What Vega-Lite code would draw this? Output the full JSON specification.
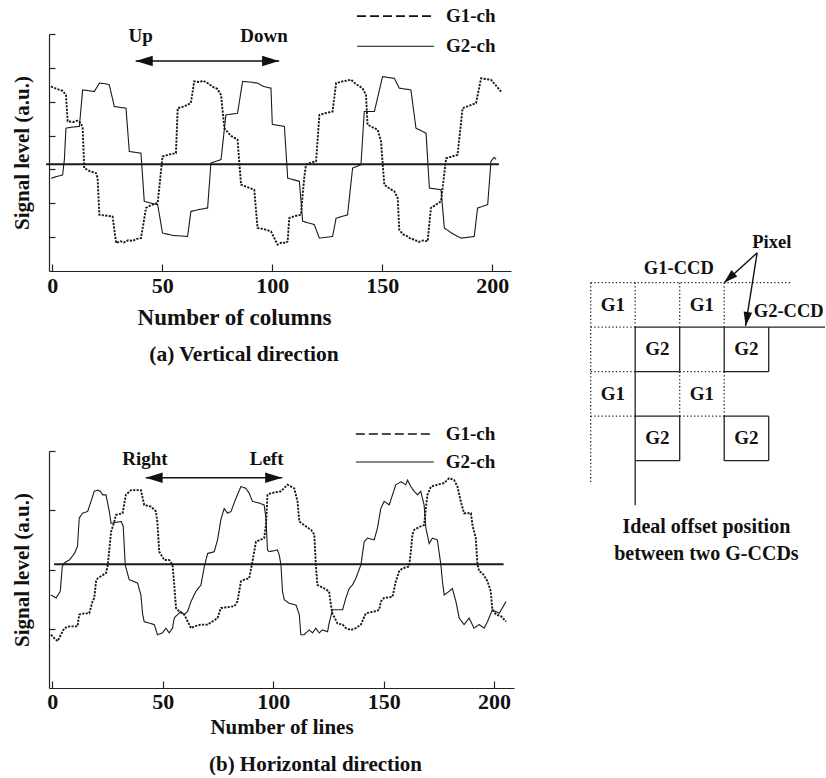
{
  "$schema": "https://vega.github.io/schema/vega-lite/v6.json",
  "background": "white",
  "padding": {"left": 11, "top": 7, "right": 0, "bottom": 0},
  "config": {
    "view": {"stroke": null},
    "font": "Liberation Serif",
    "axis": {
      "grid": false,
      "domainColor": "#222",
      "domainWidth": 1.2,
      "tickColor": "#222",
      "tickWidth": 1.2,
      "labelFont": "Liberation Serif",
      "labelFontSize": 22,
      "labelFontWeight": "bold",
      "labelColor": "#111",
      "titleFont": "Liberation Serif",
      "titleFontSize": 21,
      "titleFontWeight": "bold",
      "titleColor": "#111"
    },
    "title": {
      "font": "Liberation Serif",
      "fontSize": 21,
      "fontWeight": "bold",
      "color": "#111",
      "orient": "bottom",
      "anchor": "middle"
    }
  },
  "datasets": {
    "vertical": [
      {"k":1,"ch":"G1-ch","col":-0.6,"level":2.45},{"k":2,"ch":"G1-ch","col":2.0,"level":2.38},{"k":3,"ch":"G1-ch","col":4.7,"level":2.32},{"k":4,"ch":"G1-ch","col":6.2,"level":2.2},{"k":5,"ch":"G1-ch","col":7.0,"level":1.42},{"k":6,"ch":"G1-ch","col":9.5,"level":1.4},{"k":7,"ch":"G1-ch","col":11.5,"level":1.44},{"k":8,"ch":"G1-ch","col":13.0,"level":1.37},{"k":9,"ch":"G1-ch","col":13.8,"level":1.22},{"k":10,"ch":"G1-ch","col":14.5,"level":0.04},
      {"k":11,"ch":"G1-ch","col":17.0,"level":-0.05},{"k":12,"ch":"G1-ch","col":19.9,"level":-0.11},{"k":13,"ch":"G1-ch","col":20.6,"level":-0.26},{"k":14,"ch":"G1-ch","col":21.4,"level":-1.34},{"k":15,"ch":"G1-ch","col":24.0,"level":-1.36},{"k":16,"ch":"G1-ch","col":27.4,"level":-1.39},{"k":17,"ch":"G1-ch","col":29.0,"level":-2.17},{"k":18,"ch":"G1-ch","col":31.0,"level":-2.12},{"k":19,"ch":"G1-ch","col":32.5,"level":-2.16},{"k":20,"ch":"G1-ch","col":34.5,"level":-2.09},
      {"k":21,"ch":"G1-ch","col":36.5,"level":-2.11},{"k":22,"ch":"G1-ch","col":38.5,"level":-2.05},{"k":23,"ch":"G1-ch","col":40.3,"level":-2.03},{"k":24,"ch":"G1-ch","col":42.6,"level":-1.14},{"k":25,"ch":"G1-ch","col":45.0,"level":-1.05},{"k":26,"ch":"G1-ch","col":47.9,"level":-0.99},{"k":27,"ch":"G1-ch","col":50.1,"level":0.38},{"k":28,"ch":"G1-ch","col":53.0,"level":0.44},{"k":29,"ch":"G1-ch","col":56.2,"level":0.48},{"k":30,"ch":"G1-ch","col":57.0,"level":1.81},
      {"k":31,"ch":"G1-ch","col":60.0,"level":1.86},{"k":32,"ch":"G1-ch","col":63.0,"level":1.96},{"k":33,"ch":"G1-ch","col":64.5,"level":2.6},{"k":34,"ch":"G1-ch","col":67.0,"level":2.58},{"k":35,"ch":"G1-ch","col":68.5,"level":2.62},{"k":36,"ch":"G1-ch","col":70.6,"level":2.55},{"k":37,"ch":"G1-ch","col":73.0,"level":2.44},{"k":38,"ch":"G1-ch","col":75.0,"level":2.38},{"k":39,"ch":"G1-ch","col":76.7,"level":2.2},{"k":40,"ch":"G1-ch","col":78.2,"level":1.22},
      {"k":41,"ch":"G1-ch","col":81.0,"level":1.0},{"k":42,"ch":"G1-ch","col":84.2,"level":0.88},{"k":43,"ch":"G1-ch","col":85.8,"level":-0.45},{"k":44,"ch":"G1-ch","col":88.5,"level":-0.52},{"k":45,"ch":"G1-ch","col":91.8,"level":-0.6},{"k":46,"ch":"G1-ch","col":93.3,"level":-1.73},{"k":47,"ch":"G1-ch","col":96.0,"level":-1.76},{"k":48,"ch":"G1-ch","col":99.4,"level":-1.83},{"k":49,"ch":"G1-ch","col":102.4,"level":-2.22},{"k":50,"ch":"G1-ch","col":104.5,"level":-2.15},
      {"k":51,"ch":"G1-ch","col":106.0,"level":-2.18},{"k":52,"ch":"G1-ch","col":107.0,"level":-2.12},{"k":53,"ch":"G1-ch","col":107.7,"level":-1.44},{"k":54,"ch":"G1-ch","col":110.0,"level":-1.38},{"k":55,"ch":"G1-ch","col":113.0,"level":-1.34},{"k":56,"ch":"G1-ch","col":114.5,"level":-0.26},{"k":57,"ch":"G1-ch","col":115.3,"level":0.14},{"k":58,"ch":"G1-ch","col":117.5,"level":0.2},{"k":59,"ch":"G1-ch","col":119.9,"level":0.24},{"k":60,"ch":"G1-ch","col":121.4,"level":1.61},
      {"k":61,"ch":"G1-ch","col":124.0,"level":1.66},{"k":62,"ch":"G1-ch","col":127.4,"level":1.71},{"k":63,"ch":"G1-ch","col":129.0,"level":2.55},{"k":64,"ch":"G1-ch","col":132.0,"level":2.6},{"k":65,"ch":"G1-ch","col":135.8,"level":2.65},{"k":66,"ch":"G1-ch","col":138.0,"level":2.52},{"k":67,"ch":"G1-ch","col":141.0,"level":2.4},{"k":68,"ch":"G1-ch","col":142.6,"level":2.2},{"k":69,"ch":"G1-ch","col":143.3,"level":1.32},{"k":70,"ch":"G1-ch","col":147.9,"level":1.17},
      {"k":71,"ch":"G1-ch","col":149.4,"level":0.83},{"k":72,"ch":"G1-ch","col":150.9,"level":-0.45},{"k":73,"ch":"G1-ch","col":153.0,"level":-0.55},{"k":74,"ch":"G1-ch","col":155.5,"level":-0.65},{"k":75,"ch":"G1-ch","col":157.0,"level":-0.85},{"k":76,"ch":"G1-ch","col":157.7,"level":-1.78},{"k":77,"ch":"G1-ch","col":159.5,"level":-1.92},{"k":78,"ch":"G1-ch","col":161.5,"level":-1.98},{"k":79,"ch":"G1-ch","col":163.0,"level":-2.05},{"k":80,"ch":"G1-ch","col":164.5,"level":-2.07},
      {"k":81,"ch":"G1-ch","col":166.5,"level":-2.14},{"k":82,"ch":"G1-ch","col":168.5,"level":-2.1},{"k":83,"ch":"G1-ch","col":170.6,"level":-2.12},{"k":84,"ch":"G1-ch","col":172.1,"level":-1.14},{"k":85,"ch":"G1-ch","col":176.7,"level":-0.94},{"k":86,"ch":"G1-ch","col":179.0,"level":0.33},{"k":87,"ch":"G1-ch","col":184.2,"level":0.43},{"k":88,"ch":"G1-ch","col":186.5,"level":1.81},{"k":89,"ch":"G1-ch","col":189.5,"level":1.88},{"k":90,"ch":"G1-ch","col":192.6,"level":1.96},
      {"k":91,"ch":"G1-ch","col":194.9,"level":2.69},{"k":92,"ch":"G1-ch","col":197.0,"level":2.67},{"k":93,"ch":"G1-ch","col":199.4,"level":2.65},{"k":94,"ch":"G1-ch","col":202.0,"level":2.45},{"k":95,"ch":"G1-ch","col":204.0,"level":2.3},
      {"k":1,"ch":"G2-ch","col":-0.6,"level":-0.26},{"k":2,"ch":"G2-ch","col":4.7,"level":-0.16},{"k":3,"ch":"G2-ch","col":5.5,"level":0.3},{"k":4,"ch":"G2-ch","col":6.2,"level":1.22},{"k":5,"ch":"G2-ch","col":9.0,"level":1.25},{"k":6,"ch":"G2-ch","col":12.3,"level":1.27},{"k":7,"ch":"G2-ch","col":13.8,"level":2.35},{"k":8,"ch":"G2-ch","col":17.0,"level":2.32},{"k":9,"ch":"G2-ch","col":19.1,"level":2.3},{"k":10,"ch":"G2-ch","col":21.4,"level":2.55},
      {"k":11,"ch":"G2-ch","col":24.0,"level":2.53},{"k":12,"ch":"G2-ch","col":25.9,"level":2.5},{"k":13,"ch":"G2-ch","col":28.2,"level":1.86},{"k":14,"ch":"G2-ch","col":31.0,"level":1.83},{"k":15,"ch":"G2-ch","col":33.5,"level":1.81},{"k":16,"ch":"G2-ch","col":35.0,"level":0.53},{"k":17,"ch":"G2-ch","col":40.3,"level":0.48},{"k":18,"ch":"G2-ch","col":41.8,"level":-0.94},{"k":19,"ch":"G2-ch","col":45.0,"level":-1.0},{"k":20,"ch":"G2-ch","col":47.9,"level":-1.04},
      {"k":21,"ch":"G2-ch","col":50.1,"level":-1.88},{"k":22,"ch":"G2-ch","col":55.0,"level":-1.95},{"k":23,"ch":"G2-ch","col":61.5,"level":-1.98},{"k":24,"ch":"G2-ch","col":63.0,"level":-1.24},{"k":25,"ch":"G2-ch","col":67.0,"level":-1.18},{"k":26,"ch":"G2-ch","col":70.6,"level":-1.14},{"k":27,"ch":"G2-ch","col":72.1,"level":0.19},{"k":28,"ch":"G2-ch","col":76.7,"level":0.29},{"k":29,"ch":"G2-ch","col":78.9,"level":1.61},{"k":30,"ch":"G2-ch","col":84.2,"level":1.66},
      {"k":31,"ch":"G2-ch","col":86.5,"level":2.6},{"k":32,"ch":"G2-ch","col":90.0,"level":2.58},{"k":33,"ch":"G2-ch","col":93.3,"level":2.55},{"k":34,"ch":"G2-ch","col":96.0,"level":2.45},{"k":35,"ch":"G2-ch","col":99.4,"level":2.4},{"k":36,"ch":"G2-ch","col":100.0,"level":1.33},{"k":37,"ch":"G2-ch","col":105.5,"level":1.27},{"k":38,"ch":"G2-ch","col":107.0,"level":-0.26},{"k":39,"ch":"G2-ch","col":112.3,"level":-0.35},{"k":40,"ch":"G2-ch","col":113.8,"level":-1.53},
      {"k":41,"ch":"G2-ch","col":119.1,"level":-1.63},{"k":42,"ch":"G2-ch","col":121.4,"level":-2.03},{"k":43,"ch":"G2-ch","col":127.4,"level":-1.98},{"k":44,"ch":"G2-ch","col":129.0,"level":-1.44},{"k":45,"ch":"G2-ch","col":134.2,"level":-1.34},{"k":46,"ch":"G2-ch","col":136.5,"level":0.04},{"k":47,"ch":"G2-ch","col":140.3,"level":0.14},{"k":48,"ch":"G2-ch","col":141.8,"level":1.71},{"k":49,"ch":"G2-ch","col":146.4,"level":1.71},{"k":50,"ch":"G2-ch","col":150.1,"level":2.74},
      {"k":51,"ch":"G2-ch","col":155.5,"level":2.69},{"k":52,"ch":"G2-ch","col":157.7,"level":2.4},{"k":53,"ch":"G2-ch","col":163.0,"level":2.35},{"k":54,"ch":"G2-ch","col":165.3,"level":1.22},{"k":55,"ch":"G2-ch","col":169.9,"level":1.07},{"k":56,"ch":"G2-ch","col":171.4,"level":-0.55},{"k":57,"ch":"G2-ch","col":176.7,"level":-0.6},{"k":58,"ch":"G2-ch","col":178.2,"level":-1.73},{"k":59,"ch":"G2-ch","col":182.0,"level":-1.9},{"k":60,"ch":"G2-ch","col":185.8,"level":-2.03},
      {"k":61,"ch":"G2-ch","col":191.8,"level":-1.98},{"k":62,"ch":"G2-ch","col":193.3,"level":-1.14},{"k":63,"ch":"G2-ch","col":197.9,"level":-1.04},{"k":64,"ch":"G2-ch","col":199.4,"level":0.24},{"k":65,"ch":"G2-ch","col":200.8,"level":0.36},{"k":66,"ch":"G2-ch","col":201.7,"level":0.3}
    ],
    "horizontal": [
      {"k":1,"ch":"G1-ch","col":-0.6,"level":-1.1},{"k":2,"ch":"G1-ch","col":0.9,"level":-1.16},{"k":3,"ch":"G1-ch","col":2.4,"level":-1.21},{"k":4,"ch":"G1-ch","col":3.9,"level":-1.1},{"k":5,"ch":"G1-ch","col":5.4,"level":-0.99},{"k":6,"ch":"G1-ch","col":7.7,"level":-0.96},{"k":7,"ch":"G1-ch","col":11.4,"level":-0.96},{"k":8,"ch":"G1-ch","col":12.2,"level":-0.76},{"k":9,"ch":"G1-ch","col":14.5,"level":-0.74},{"k":10,"ch":"G1-ch","col":16.7,"level":-0.74},
      {"k":11,"ch":"G1-ch","col":18.2,"level":-0.54},{"k":12,"ch":"G1-ch","col":19.0,"level":-0.48},{"k":13,"ch":"G1-ch","col":19.8,"level":-0.2},{"k":14,"ch":"G1-ch","col":20.5,"level":-0.15},{"k":15,"ch":"G1-ch","col":24.3,"level":-0.06},{"k":16,"ch":"G1-ch","col":25.0,"level":0.05},{"k":17,"ch":"G1-ch","col":25.8,"level":0.33},{"k":18,"ch":"G1-ch","col":26.6,"level":0.64},{"k":19,"ch":"G1-ch","col":28.1,"level":0.81},{"k":20,"ch":"G1-ch","col":28.8,"level":0.92},
      {"k":21,"ch":"G1-ch","col":31.8,"level":0.95},{"k":22,"ch":"G1-ch","col":33.3,"level":1.26},{"k":23,"ch":"G1-ch","col":35.6,"level":1.34},{"k":24,"ch":"G1-ch","col":40.1,"level":1.34},{"k":25,"ch":"G1-ch","col":41.6,"level":1.09},{"k":26,"ch":"G1-ch","col":44.7,"level":1.06},{"k":27,"ch":"G1-ch","col":46.9,"level":0.98},{"k":28,"ch":"G1-ch","col":47.6,"level":0.78},{"k":29,"ch":"G1-ch","col":48.4,"level":0.3},{"k":30,"ch":"G1-ch","col":50.7,"level":0.16},
      {"k":31,"ch":"G1-ch","col":52.9,"level":0.16},{"k":32,"ch":"G1-ch","col":54.4,"level":0.08},{"k":33,"ch":"G1-ch","col":55.2,"level":-0.26},{"k":34,"ch":"G1-ch","col":56.0,"level":-0.65},{"k":35,"ch":"G1-ch","col":57.5,"level":-0.71},{"k":36,"ch":"G1-ch","col":59.7,"level":-0.76},{"k":37,"ch":"G1-ch","col":62.8,"level":-0.99},{"k":38,"ch":"G1-ch","col":64.3,"level":-0.96},{"k":39,"ch":"G1-ch","col":67.3,"level":-0.93},{"k":40,"ch":"G1-ch","col":70.3,"level":-0.93},
      {"k":41,"ch":"G1-ch","col":74.8,"level":-0.82},{"k":42,"ch":"G1-ch","col":76.3,"level":-0.65},{"k":43,"ch":"G1-ch","col":82.4,"level":-0.62},{"k":44,"ch":"G1-ch","col":83.8,"level":-0.54},{"k":45,"ch":"G1-ch","col":85.4,"level":-0.2},{"k":46,"ch":"G1-ch","col":86.9,"level":-0.17},{"k":47,"ch":"G1-ch","col":89.1,"level":-0.15},{"k":48,"ch":"G1-ch","col":90.6,"level":0.13},{"k":49,"ch":"G1-ch","col":92.2,"level":0.47},{"k":50,"ch":"G1-ch","col":95.9,"level":0.53},
      {"k":51,"ch":"G1-ch","col":96.7,"level":0.75},{"k":52,"ch":"G1-ch","col":97.4,"level":1.26},{"k":53,"ch":"G1-ch","col":99.0,"level":1.29},{"k":54,"ch":"G1-ch","col":103.5,"level":1.32},{"k":55,"ch":"G1-ch","col":106.5,"level":1.43},{"k":56,"ch":"G1-ch","col":109.5,"level":1.37},{"k":57,"ch":"G1-ch","col":111.0,"level":1.15},{"k":58,"ch":"G1-ch","col":111.8,"level":0.81},{"k":59,"ch":"G1-ch","col":114.0,"level":0.75},{"k":60,"ch":"G1-ch","col":117.1,"level":0.67},
      {"k":61,"ch":"G1-ch","col":118.6,"level":0.59},{"k":62,"ch":"G1-ch","col":119.3,"level":0.08},{"k":63,"ch":"G1-ch","col":120.0,"level":-0.26},{"k":64,"ch":"G1-ch","col":123.1,"level":-0.32},{"k":65,"ch":"G1-ch","col":125.3,"level":-0.37},{"k":66,"ch":"G1-ch","col":126.1,"level":-0.6},{"k":67,"ch":"G1-ch","col":126.8,"level":-0.74},{"k":68,"ch":"G1-ch","col":129.1,"level":-0.91},{"k":69,"ch":"G1-ch","col":131.4,"level":-0.93},{"k":70,"ch":"G1-ch","col":132.9,"level":-0.99},
      {"k":71,"ch":"G1-ch","col":135.2,"level":-1.02},{"k":72,"ch":"G1-ch","col":137.4,"level":-0.99},{"k":73,"ch":"G1-ch","col":139.7,"level":-0.93},{"k":74,"ch":"G1-ch","col":141.9,"level":-0.74},{"k":75,"ch":"G1-ch","col":145.7,"level":-0.71},{"k":76,"ch":"G1-ch","col":148.0,"level":-0.68},{"k":77,"ch":"G1-ch","col":148.7,"level":-0.54},{"k":78,"ch":"G1-ch","col":150.2,"level":-0.48},{"k":79,"ch":"G1-ch","col":154.0,"level":-0.46},{"k":80,"ch":"G1-ch","col":155.5,"level":-0.2},
      {"k":81,"ch":"G1-ch","col":157.0,"level":-0.03},{"k":82,"ch":"G1-ch","col":158.5,"level":0.02},{"k":83,"ch":"G1-ch","col":161.5,"level":0.05},{"k":84,"ch":"G1-ch","col":162.3,"level":0.3},{"k":85,"ch":"G1-ch","col":163.0,"level":0.59},{"k":86,"ch":"G1-ch","col":163.8,"level":0.67},{"k":87,"ch":"G1-ch","col":166.8,"level":0.73},{"k":88,"ch":"G1-ch","col":168.3,"level":0.75},{"k":89,"ch":"G1-ch","col":169.1,"level":1.03},{"k":90,"ch":"G1-ch","col":169.8,"level":1.26},
      {"k":91,"ch":"G1-ch","col":171.4,"level":1.4},{"k":92,"ch":"G1-ch","col":174.3,"level":1.43},{"k":93,"ch":"G1-ch","col":177.4,"level":1.46},{"k":94,"ch":"G1-ch","col":179.6,"level":1.54},{"k":95,"ch":"G1-ch","col":181.9,"level":1.51},{"k":96,"ch":"G1-ch","col":183.4,"level":1.4},{"k":97,"ch":"G1-ch","col":184.9,"level":1.15},{"k":98,"ch":"G1-ch","col":186.4,"level":0.95},{"k":99,"ch":"G1-ch","col":189.5,"level":0.95},{"k":100,"ch":"G1-ch","col":190.2,"level":0.75},
      {"k":101,"ch":"G1-ch","col":191.7,"level":0.53},{"k":102,"ch":"G1-ch","col":192.4,"level":0.11},{"k":103,"ch":"G1-ch","col":193.2,"level":-0.03},{"k":104,"ch":"G1-ch","col":194.7,"level":-0.06},{"k":105,"ch":"G1-ch","col":197.0,"level":-0.2},{"k":106,"ch":"G1-ch","col":198.5,"level":-0.37},{"k":107,"ch":"G1-ch","col":199.2,"level":-0.68},{"k":108,"ch":"G1-ch","col":200.9,"level":-0.76},{"k":109,"ch":"G1-ch","col":203.2,"level":-0.79},{"k":110,"ch":"G1-ch","col":205.4,"level":-0.88},
      {"k":1,"ch":"G2-ch","col":-0.6,"level":-0.43},{"k":2,"ch":"G2-ch","col":1.7,"level":-0.48},{"k":3,"ch":"G2-ch","col":3.6,"level":-0.37},{"k":4,"ch":"G2-ch","col":4.5,"level":0.05},{"k":5,"ch":"G2-ch","col":5.4,"level":0.11},{"k":6,"ch":"G2-ch","col":7.7,"level":0.16},{"k":7,"ch":"G2-ch","col":10.0,"level":0.27},{"k":8,"ch":"G2-ch","col":11.4,"level":0.39},{"k":9,"ch":"G2-ch","col":11.8,"level":0.64},{"k":10,"ch":"G2-ch","col":12.2,"level":0.87},
      {"k":11,"ch":"G2-ch","col":13.7,"level":0.95},{"k":12,"ch":"G2-ch","col":16.0,"level":0.98},{"k":13,"ch":"G2-ch","col":17.5,"level":1.15},{"k":14,"ch":"G2-ch","col":19.0,"level":1.32},{"k":15,"ch":"G2-ch","col":20.5,"level":1.34},{"k":16,"ch":"G2-ch","col":21.7,"level":1.32},{"k":17,"ch":"G2-ch","col":22.8,"level":1.26},{"k":18,"ch":"G2-ch","col":24.3,"level":1.26},{"k":19,"ch":"G2-ch","col":25.8,"level":0.98},{"k":20,"ch":"G2-ch","col":26.6,"level":0.78},
      {"k":21,"ch":"G2-ch","col":31.2,"level":0.81},{"k":22,"ch":"G2-ch","col":32.1,"level":0.73},{"k":23,"ch":"G2-ch","col":33.0,"level":0.08},{"k":24,"ch":"G2-ch","col":34.8,"level":-0.17},{"k":25,"ch":"G2-ch","col":38.6,"level":-0.23},{"k":26,"ch":"G2-ch","col":40.1,"level":-0.43},{"k":27,"ch":"G2-ch","col":40.9,"level":-0.76},{"k":28,"ch":"G2-ch","col":41.6,"level":-0.88},{"k":29,"ch":"G2-ch","col":46.2,"level":-0.93},{"k":30,"ch":"G2-ch","col":47.6,"level":-1.1},
      {"k":31,"ch":"G2-ch","col":49.9,"level":-1.07},{"k":32,"ch":"G2-ch","col":51.4,"level":-0.99},{"k":33,"ch":"G2-ch","col":52.9,"level":-1.07},{"k":34,"ch":"G2-ch","col":54.4,"level":-0.99},{"k":35,"ch":"G2-ch","col":55.2,"level":-0.82},{"k":36,"ch":"G2-ch","col":56.7,"level":-0.76},{"k":37,"ch":"G2-ch","col":58.2,"level":-0.71},{"k":38,"ch":"G2-ch","col":59.7,"level":-0.76},{"k":39,"ch":"G2-ch","col":61.2,"level":-0.71},{"k":40,"ch":"G2-ch","col":62.8,"level":-0.54},
      {"k":41,"ch":"G2-ch","col":65.0,"level":-0.37},{"k":42,"ch":"G2-ch","col":67.3,"level":-0.26},{"k":43,"ch":"G2-ch","col":68.8,"level":0.05},{"k":44,"ch":"G2-ch","col":70.3,"level":0.27},{"k":45,"ch":"G2-ch","col":73.3,"level":0.3},{"k":46,"ch":"G2-ch","col":74.8,"level":0.5},{"k":47,"ch":"G2-ch","col":76.3,"level":0.84},{"k":48,"ch":"G2-ch","col":77.8,"level":1.03},{"k":49,"ch":"G2-ch","col":79.3,"level":0.95},{"k":50,"ch":"G2-ch","col":80.9,"level":0.98},
      {"k":51,"ch":"G2-ch","col":83.1,"level":1.2},{"k":52,"ch":"G2-ch","col":85.4,"level":1.4},{"k":53,"ch":"G2-ch","col":87.6,"level":1.37},{"k":54,"ch":"G2-ch","col":89.1,"level":1.29},{"k":55,"ch":"G2-ch","col":90.6,"level":1.15},{"k":56,"ch":"G2-ch","col":93.7,"level":1.12},{"k":57,"ch":"G2-ch","col":95.9,"level":1.09},{"k":58,"ch":"G2-ch","col":96.7,"level":0.87},{"k":59,"ch":"G2-ch","col":97.4,"level":0.33},{"k":60,"ch":"G2-ch","col":98.2,"level":0.3},
      {"k":61,"ch":"G2-ch","col":101.9,"level":0.33},{"k":62,"ch":"G2-ch","col":102.7,"level":0.25},{"k":63,"ch":"G2-ch","col":103.5,"level":0.08},{"k":64,"ch":"G2-ch","col":104.2,"level":-0.37},{"k":65,"ch":"G2-ch","col":105.0,"level":-0.51},{"k":66,"ch":"G2-ch","col":107.2,"level":-0.57},{"k":67,"ch":"G2-ch","col":110.3,"level":-0.6},{"k":68,"ch":"G2-ch","col":111.8,"level":-0.76},{"k":69,"ch":"G2-ch","col":112.5,"level":-1.1},{"k":70,"ch":"G2-ch","col":114.0,"level":-1.1},
      {"k":71,"ch":"G2-ch","col":116.3,"level":-1.02},{"k":72,"ch":"G2-ch","col":117.8,"level":-1.07},{"k":73,"ch":"G2-ch","col":119.3,"level":-0.99},{"k":74,"ch":"G2-ch","col":120.8,"level":-1.07},{"k":75,"ch":"G2-ch","col":122.3,"level":-1.02},{"k":76,"ch":"G2-ch","col":124.6,"level":-1.05},{"k":77,"ch":"G2-ch","col":125.3,"level":-0.91},{"k":78,"ch":"G2-ch","col":126.8,"level":-0.68},{"k":79,"ch":"G2-ch","col":131.4,"level":-0.68},{"k":80,"ch":"G2-ch","col":132.9,"level":-0.48},
      {"k":81,"ch":"G2-ch","col":134.4,"level":-0.32},{"k":82,"ch":"G2-ch","col":135.9,"level":-0.26},{"k":83,"ch":"G2-ch","col":137.4,"level":-0.15},{"k":84,"ch":"G2-ch","col":139.7,"level":0.08},{"k":85,"ch":"G2-ch","col":141.2,"level":0.47},{"k":86,"ch":"G2-ch","col":142.7,"level":0.53},{"k":87,"ch":"G2-ch","col":145.7,"level":0.5},{"k":88,"ch":"G2-ch","col":147.2,"level":0.7},{"k":89,"ch":"G2-ch","col":148.7,"level":1.03},{"k":90,"ch":"G2-ch","col":150.2,"level":1.15},
      {"k":91,"ch":"G2-ch","col":152.5,"level":1.09},{"k":92,"ch":"G2-ch","col":154.0,"level":1.26},{"k":93,"ch":"G2-ch","col":155.5,"level":1.43},{"k":94,"ch":"G2-ch","col":157.8,"level":1.48},{"k":95,"ch":"G2-ch","col":160.0,"level":1.43},{"k":96,"ch":"G2-ch","col":160.8,"level":1.51},{"k":97,"ch":"G2-ch","col":162.3,"level":1.4},{"k":98,"ch":"G2-ch","col":163.8,"level":1.32},{"k":99,"ch":"G2-ch","col":165.3,"level":1.26},{"k":100,"ch":"G2-ch","col":166.8,"level":1.32},
      {"k":101,"ch":"G2-ch","col":168.3,"level":1.09},{"k":102,"ch":"G2-ch","col":169.1,"level":0.7},{"k":103,"ch":"G2-ch","col":170.6,"level":0.44},{"k":104,"ch":"G2-ch","col":172.1,"level":0.53},{"k":105,"ch":"G2-ch","col":174.3,"level":0.5},{"k":106,"ch":"G2-ch","col":175.9,"level":0.08},{"k":107,"ch":"G2-ch","col":176.6,"level":-0.2},{"k":108,"ch":"G2-ch","col":177.4,"level":-0.43},{"k":109,"ch":"G2-ch","col":179.6,"level":-0.37},{"k":110,"ch":"G2-ch","col":181.1,"level":-0.32},
      {"k":111,"ch":"G2-ch","col":182.7,"level":-0.54},{"k":112,"ch":"G2-ch","col":184.2,"level":-0.82},{"k":113,"ch":"G2-ch","col":186.4,"level":-0.93},{"k":114,"ch":"G2-ch","col":188.7,"level":-0.82},{"k":115,"ch":"G2-ch","col":190.9,"level":-0.99},{"k":116,"ch":"G2-ch","col":193.2,"level":-0.93},{"k":117,"ch":"G2-ch","col":195.5,"level":-0.99},{"k":118,"ch":"G2-ch","col":197.0,"level":-0.88},{"k":119,"ch":"G2-ch","col":199.2,"level":-0.68},{"k":120,"ch":"G2-ch","col":202.3,"level":-0.74},
      {"k":121,"ch":"G2-ch","col":205.4,"level":-0.54}
    ],
    "ccdGrid": [
      {"ccd":"G1-CCD","cx":0,"cy":0,"cx2":4.5,"cy2":0},
      {"ccd":"G1-CCD","cx":0,"cy":0,"cx2":0,"cy2":4.5},
      {"ccd":"G1-CCD","cx":1,"cy":0,"cx2":1,"cy2":1},
      {"ccd":"G1-CCD","cx":2,"cy":0,"cx2":2,"cy2":1},
      {"ccd":"G1-CCD","cx":3,"cy":0,"cx2":3,"cy2":1},
      {"ccd":"G1-CCD","cx":0,"cy":1,"cx2":1,"cy2":1},
      {"ccd":"G1-CCD","cx":0,"cy":2,"cx2":1,"cy2":2},
      {"ccd":"G1-CCD","cx":2,"cy":2,"cx2":3,"cy2":2},
      {"ccd":"G1-CCD","cx":0,"cy":3,"cx2":1,"cy2":3},
      {"ccd":"G1-CCD","cx":2,"cy":3,"cx2":3,"cy2":3},
      {"ccd":"G1-CCD","cx":2,"cy":2,"cx2":2,"cy2":3},
      {"ccd":"G1-CCD","cx":3,"cy":2,"cx2":3,"cy2":3},
      {"ccd":"G2-CCD","cx":1,"cy":1,"cx2":5.265,"cy2":1},
      {"ccd":"G2-CCD","cx":1,"cy":1,"cx2":1,"cy2":5},
      {"ccd":"G2-CCD","cx":2,"cy":1,"cx2":2,"cy2":2},
      {"ccd":"G2-CCD","cx":1,"cy":2,"cx2":2,"cy2":2},
      {"ccd":"G2-CCD","cx":3,"cy":1,"cx2":3,"cy2":2},
      {"ccd":"G2-CCD","cx":4,"cy":1,"cx2":4,"cy2":2},
      {"ccd":"G2-CCD","cx":3,"cy":2,"cx2":4,"cy2":2},
      {"ccd":"G2-CCD","cx":1,"cy":3,"cx2":2,"cy2":3},
      {"ccd":"G2-CCD","cx":2,"cy":3,"cx2":2,"cy2":4},
      {"ccd":"G2-CCD","cx":1,"cy":4,"cx2":2,"cy2":4},
      {"ccd":"G2-CCD","cx":3,"cy":3,"cx2":4,"cy2":3},
      {"ccd":"G2-CCD","cx":3,"cy":3,"cx2":3,"cy2":4},
      {"ccd":"G2-CCD","cx":4,"cy":3,"cx2":4,"cy2":4},
      {"ccd":"G2-CCD","cx":3,"cy":4,"cx2":4,"cy2":4}
    ],
    "cells": [
      {"cx":0.5,"cy":0.5,"label":"G1"},{"cx":2.5,"cy":0.5,"label":"G1"},
      {"cx":0.5,"cy":2.5,"label":"G1"},{"cx":2.5,"cy":2.5,"label":"G1"},
      {"cx":1.5,"cy":1.5,"label":"G2"},{"cx":3.5,"cy":1.5,"label":"G2"},
      {"cx":1.5,"cy":3.5,"label":"G2"},{"cx":3.5,"cy":3.5,"label":"G2"}
    ]
  },
  "hconcat": [
    {
      "vconcat": [
        {
          "width": 462,
          "height": 237,
          "title": {"text": "(a) Vertical direction", "offset": 15, "dx": -36, "fontSize": 21.5},
          "encoding": {
            "x": {"field": "col", "type": "quantitative",
                  "scale": {"domain": [-1.5, 208.5], "nice": false, "zero": false},
                  "axis": {"title": "Number of columns", "titleFontSize": 23, "values": [0, 50, 100, 150, 200], "tickSize": -7, "labelPadding": 11, "titlePadding": 10, "titleX": 185, "labelFlush": false}},
            "y": {"field": "level", "type": "quantitative",
                  "scale": {"domain": [-3, 4], "nice": false, "zero": false},
                  "axis": {"title": "Signal level (a.u.)", "values": [-2, -1, 0, 1, 2, 3, 4], "labels": false, "tickSize": -6, "titlePadding": 16}}
          },
          "layer": [
            {
              "data": {"name": "vertical"},
              "mark": {"type": "line", "color": "#1a1a1a", "clip": false},
              "encoding": {
                "order": {"field": "k", "type": "quantitative"},
                "strokeDash": {"field": "ch", "type": "nominal",
                               "scale": {"domain": ["G1-ch", "G2-ch"], "range": [[2.2, 1.3], [1, 0]]}, "legend": null},
                "strokeWidth": {"field": "ch", "type": "nominal",
                                "scale": {"domain": ["G1-ch", "G2-ch"], "range": [1.9, 1.1]}, "legend": null}
              }
            },
            {
              "data": {"values": [{"col": -2.8, "col_end": 203, "level": 0.15}]},
              "mark": {"type": "rule", "color": "#1a1a1a", "strokeWidth": 2},
              "encoding": {"x2": {"field": "col_end"}}
            },
            {
              "data": {"values": [{"col": 37.9, "col_end": 103.1, "level": 3.2}]},
              "mark": {"type": "rule", "color": "#111", "strokeWidth": 1.5},
              "encoding": {"x2": {"field": "col_end"}}
            },
            {
              "data": {"values": [{"col": 41.8, "level": 3.2, "head": "Up"}, {"col": 99.2, "level": 3.2, "head": "Down"}]},
              "mark": {"type": "point", "shape": "M1,0L-1,-0.62L-1,0.62Z", "size": 289, "filled": true, "color": "#111", "opacity": 1},
              "encoding": {"angle": {"field": "head", "type": "nominal", "scale": {"domain": ["Up", "Down"], "range": [180, 0]}, "legend": null}}
            },
            {
              "data": {"values": [{"col": 40.2, "level": 3.94, "label": "Up"}, {"col": 96.2, "level": 3.94, "label": "Down"}]},
              "mark": {"type": "text", "font": "Liberation Serif", "fontSize": 19, "fontWeight": "bold", "color": "#111"},
              "encoding": {"text": {"field": "label"}}
            },
            {
              "data": {"values": [{"col": 138.5, "col_end": 173.5, "level": 4.53}]},
              "mark": {"type": "rule", "color": "#111", "strokeWidth": 1.7, "strokeDash": [9, 4], "clip": false},
              "encoding": {"x2": {"field": "col_end"}}
            },
            {
              "data": {"values": [{"col": 138.5, "col_end": 173.5, "level": 3.64}]},
              "mark": {"type": "rule", "color": "#111", "strokeWidth": 1.1, "clip": false},
              "encoding": {"x2": {"field": "col_end"}}
            },
            {
              "data": {"values": [{"col": 178.9, "level": 4.53, "label": "G1-ch"}, {"col": 178.9, "level": 3.64, "label": "G2-ch"}]},
              "mark": {"type": "text", "align": "left", "font": "Liberation Serif", "fontSize": 19, "fontWeight": "bold", "color": "#111"},
              "encoding": {"text": {"field": "label"}}
            }
          ]
        },
        {
          "width": 465,
          "height": 237,
          "title": {"text": "(b) Horizontal direction", "offset": 17, "dx": 34},
          "encoding": {
            "x": {"field": "col", "type": "quantitative",
                  "scale": {"domain": [-1.5, 209], "nice": false, "zero": false},
                  "axis": {"title": "Number of lines", "values": [0, 50, 100, 150, 200], "tickSize": -7, "labelPadding": 10, "titlePadding": 4, "labelFlush": false}},
            "y": {"field": "level", "type": "quantitative",
                  "scale": {"domain": [-2, 2], "nice": false, "zero": false},
                  "axis": {"title": "Signal level (a.u.)", "values": [-1, 0, 1, 2], "labels": false, "tickSize": -6, "titlePadding": 16}}
          },
          "layer": [
            {
              "data": {"name": "horizontal"},
              "mark": {"type": "line", "color": "#1a1a1a", "clip": false},
              "encoding": {
                "order": {"field": "k", "type": "quantitative"},
                "strokeDash": {"field": "ch", "type": "nominal",
                               "scale": {"domain": ["G1-ch", "G2-ch"], "range": [[2.2, 1.3], [1, 0]]}, "legend": null},
                "strokeWidth": {"field": "ch", "type": "nominal",
                                "scale": {"domain": ["G1-ch", "G2-ch"], "range": [1.9, 1.1]}, "legend": null}
              }
            },
            {
              "data": {"values": [{"col": 0.8, "col_end": 204.3, "level": 0.09}]},
              "mark": {"type": "rule", "color": "#1a1a1a", "strokeWidth": 2},
              "encoding": {"x2": {"field": "col_end"}}
            },
            {
              "data": {"values": [{"col": 42.3, "col_end": 104.1, "level": 1.55}]},
              "mark": {"type": "rule", "color": "#111", "strokeWidth": 1.5},
              "encoding": {"x2": {"field": "col_end"}}
            },
            {
              "data": {"values": [{"col": 46.1, "level": 1.55, "head": "Right"}, {"col": 100.2, "level": 1.55, "head": "Left"}]},
              "mark": {"type": "point", "shape": "M1,0L-1,-0.62L-1,0.62Z", "size": 289, "filled": true, "color": "#111", "opacity": 1},
              "encoding": {"angle": {"field": "head", "type": "nominal", "scale": {"domain": ["Right", "Left"], "range": [180, 0]}, "legend": null}}
            },
            {
              "data": {"values": [{"col": 41.9, "level": 1.865, "label": "Right"}, {"col": 97.0, "level": 1.865, "label": "Left"}]},
              "mark": {"type": "text", "font": "Liberation Serif", "fontSize": 19, "fontWeight": "bold", "color": "#111"},
              "encoding": {"text": {"field": "label"}}
            },
            {
              "data": {"values": [{"col": 137.4, "col_end": 172.7, "level": 2.287}]},
              "mark": {"type": "rule", "color": "#111", "strokeWidth": 1.7, "strokeDash": [9, 4], "clip": false},
              "encoding": {"x2": {"field": "col_end"}}
            },
            {
              "data": {"values": [{"col": 137.4, "col_end": 172.7, "level": 1.814}]},
              "mark": {"type": "rule", "color": "#111", "strokeWidth": 1.1, "clip": false},
              "encoding": {"x2": {"field": "col_end"}}
            },
            {
              "data": {"values": [{"col": 178.1, "level": 2.287, "label": "G1-ch"}, {"col": 178.1, "level": 1.814, "label": "G2-ch"}]},
              "mark": {"type": "text", "align": "left", "font": "Liberation Serif", "fontSize": 19, "fontWeight": "bold", "color": "#111"},
              "encoding": {"text": {"field": "label"}}
            }
          ]
        }
      ],
      "spacing": 180,
      "bounds": "flush",
      "resolve": {
        "scale": {"strokeDash": "independent", "strokeWidth": "independent", "angle": "independent"}
      }
    },
    {
      "width": 266,
      "height": 567,
      "encoding": {
        "x": {"field": "cx", "type": "quantitative", "scale": {"domain": [-0.712, 5.265], "nice": false, "zero": false}, "axis": null},
        "y": {"field": "cy", "type": "quantitative", "scale": {"domain": [-5.589, 7.153], "nice": false, "zero": false, "reverse": true}, "axis": null}
      },
      "layer": [
        {
          "data": {"name": "ccdGrid"},
          "mark": {"type": "rule", "color": "#222", "strokeWidth": 1.3, "clip": false},
          "encoding": {
            "x2": {"field": "cx2"},
            "y2": {"field": "cy2"},
            "strokeDash": {"field": "ccd", "type": "nominal", "scale": {"domain": ["G1-CCD", "G2-CCD"], "range": [[1.3, 2.3], [1, 0]]}, "legend": null}
          }
        },
        {
          "data": {"name": "cells"},
          "mark": {"type": "text", "font": "Liberation Serif", "fontSize": 19, "fontWeight": "bold", "color": "#111"},
          "encoding": {"text": {"field": "label"}}
        },
        {
          "data": {"values": [{"cx": 3.74, "cy": -0.67, "cx2": 3.0, "cy2": 0.0}, {"cx": 3.74, "cy": -0.67, "cx2": 3.48, "cy2": 0.97}]},
          "mark": {"type": "rule", "color": "#111", "strokeWidth": 1.4},
          "encoding": {"x2": {"field": "cx2"}, "y2": {"field": "cy2"}}
        },
        {
          "data": {"values": [{"cx": 3.112, "cy": -0.106, "target": "G1-CCD"}, {"cx": 3.508, "cy": 0.818, "target": "G2-CCD"}]},
          "mark": {"type": "point", "shape": "M1,0L-1,-0.62L-1,0.62Z", "size": 196, "filled": true, "color": "#111", "opacity": 1},
          "encoding": {"angle": {"field": "target", "type": "nominal", "scale": {"domain": ["G1-CCD", "G2-CCD"], "range": [138, 99]}, "legend": null}}
        },
        {
          "data": {"values": [
            {"cx": 1.98, "cy": -0.34, "label": "G1-CCD"},
            {"cx": 4.07, "cy": -0.91, "label": "Pixel"}
          ]},
          "mark": {"type": "text", "font": "Liberation Serif", "fontSize": 18.5, "fontWeight": "bold", "color": "#111"},
          "encoding": {"text": {"field": "label"}}
        },
        {
          "data": {"values": [{"cx": 3.665, "cy": 0.64, "label": "G2-CCD"}]},
          "mark": {"type": "text", "align": "left", "font": "Liberation Serif", "fontSize": 18.5, "fontWeight": "bold", "color": "#111"},
          "encoding": {"text": {"field": "label"}}
        },
        {
          "data": {"values": [
            {"cx": 2.6, "cy": 5.5, "label": "Ideal offset position"},
            {"cx": 2.6, "cy": 6.1, "label": "between two G-CCDs"}
          ]},
          "mark": {"type": "text", "font": "Liberation Serif", "fontSize": 20, "fontWeight": "bold", "color": "#111"},
          "encoding": {"text": {"field": "label"}}
        }
      ]
    }
  ],
  "spacing": 510,
  "bounds": "flush",
  "resolve": {
    "scale": {"strokeDash": "independent", "strokeWidth": "independent", "angle": "independent"}
  }
}
